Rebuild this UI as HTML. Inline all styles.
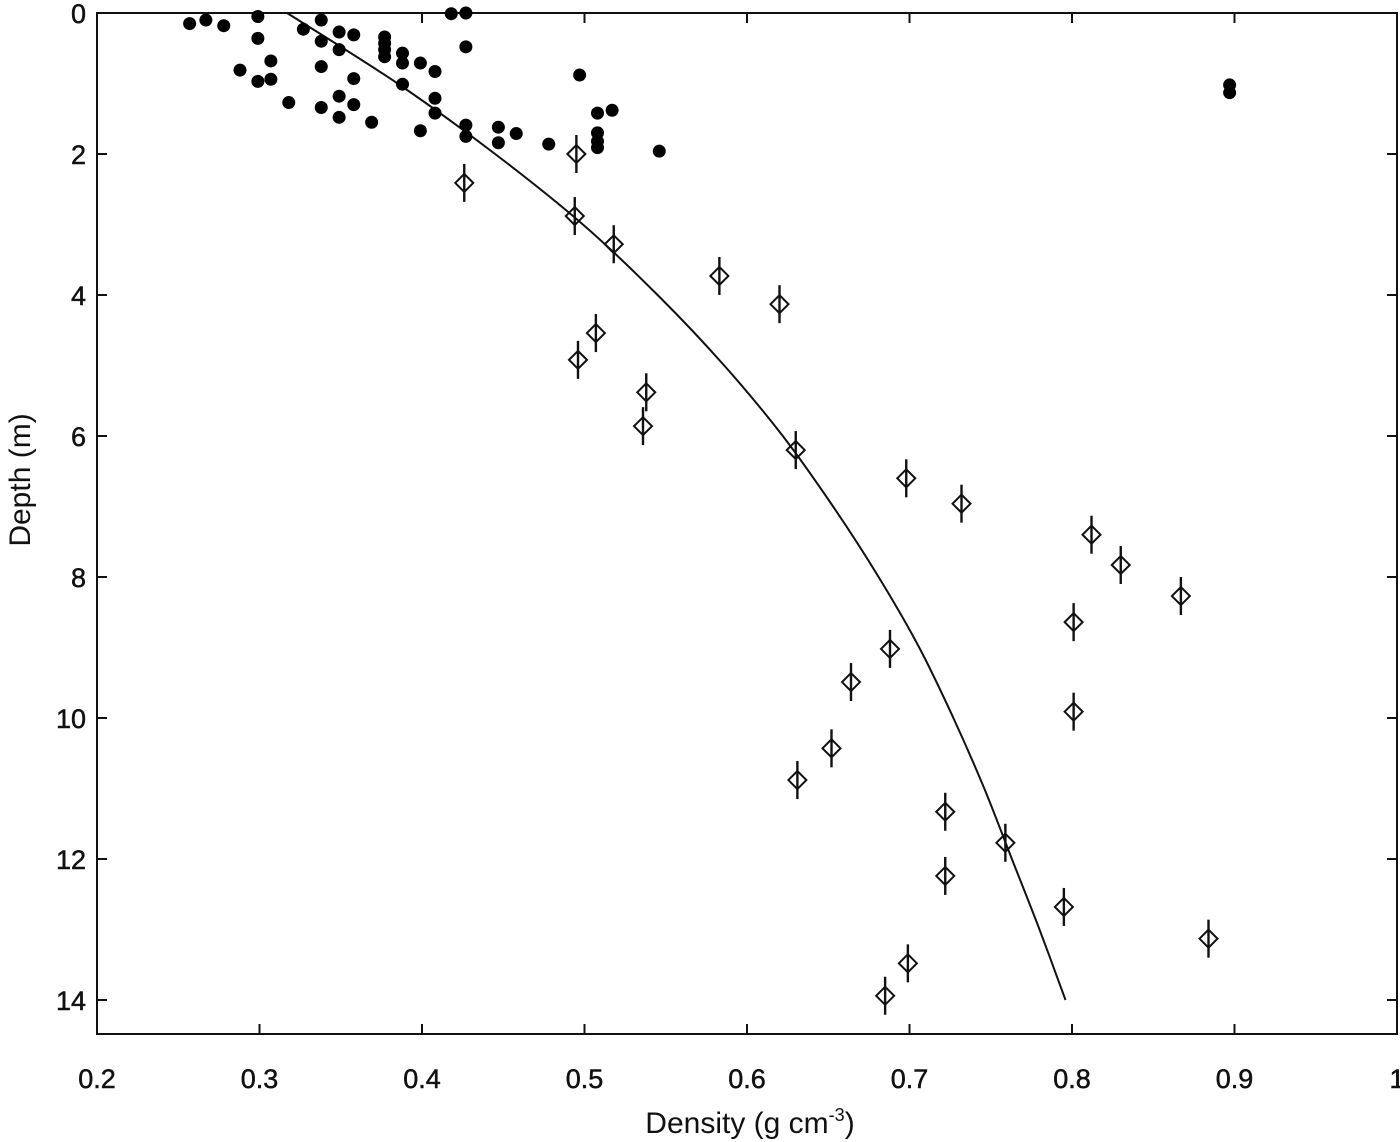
<!DOCTYPE html>
<html><head><meta charset="utf-8"><style>
body{margin:0;background:#fff}
svg{display:block;font-family:"Liberation Sans",sans-serif}
</style></head><body>
<svg id="chart" width="1400" height="1142" viewBox="0 0 1400 1142" xmlns="http://www.w3.org/2000/svg">
<g id="axes"></g>
<g id="marks"></g>
<text x="750" y="1133" font-size="30" text-anchor="middle" fill="#111">Density (g cm<tspan font-size="18" dy="-12">-3</tspan><tspan dy="12">)</tspan></text>
<text transform="translate(30,480) rotate(-90)" font-size="30" text-anchor="middle" fill="#111">Depth (m)</text>
</svg>
<script>
const xTicks=[0.2,0.3,0.4,0.5,0.6,0.7,0.8,0.9,1];
const xTickLabels=["0.2","0.3","0.4","0.5","0.6","0.7","0.8","0.9","1"];
const yTicks=[0,2,4,6,8,10,12,14];
const yTickLabels=["0","2","4","6","8","10","12","14"];
const snowDensity=[0.257,0.267,0.278,0.299,0.299,0.288,0.307,0.299,0.307,0.318,0.327,0.338,0.338,0.338,0.338,0.349,0.349,0.358,0.358,0.349,0.358,0.349,0.369,0.377,0.377,0.377,0.377,0.388,0.388,0.388,0.399,0.399,0.408,0.408,0.408,0.418,0.427,0.427,0.427,0.427,0.447,0.447,0.458,0.478,0.497,0.508,0.508,0.508,0.508,0.517,0.546,0.897,0.897];
const snowDepth=[0.15,0.10,0.18,0.05,0.36,0.81,0.68,0.97,0.94,1.27,0.23,0.10,0.40,0.76,1.34,0.27,0.52,0.31,0.93,1.18,1.30,1.48,1.55,0.34,0.43,0.52,0.62,0.57,0.71,1.01,0.71,1.67,0.83,1.21,1.42,0.01,0.0,0.48,1.59,1.75,1.62,1.84,1.71,1.86,0.88,1.42,1.70,1.82,1.91,1.38,1.96,1.02,1.13];
const coreDensity=[0.495,0.426,0.494,0.518,0.583,0.620,0.507,0.496,0.538,0.536,0.630,0.698,0.732,0.812,0.830,0.867,0.801,0.688,0.664,0.801,0.652,0.631,0.722,0.759,0.722,0.795,0.884,0.699,0.685];
const coreDepth=[2.00,2.41,2.88,3.28,3.73,4.13,4.54,4.92,5.38,5.86,6.20,6.60,6.96,7.40,7.83,8.27,8.64,9.02,9.49,9.91,10.43,10.88,11.33,11.77,12.24,12.68,13.13,13.48,13.94];
const fitDepth=[0,1,2,3,4,5,6,7,8,9,10,11,12,13,14];
const fitDensity=[0.317,0.385,0.445,0.499,0.545,0.586,0.622,0.653,0.681,0.706,0.727,0.746,0.763,0.780,0.796];

const X0=97,X1=1397,Y0=13,Y1=1034;
const xs=d=>X0+(d-0.2)/0.8*(X1-X0);
const ys=z=>Y0+z*70.5;
const NS="http://www.w3.org/2000/svg";
function mk(tag,attrs,parent){const e=document.createElementNS(NS,tag);for(const k in attrs)e.setAttribute(k,attrs[k]);parent.appendChild(e);return e;}
const axes=document.getElementById('axes'),marks=document.getElementById('marks');
const frame=mk('rect',{x:X0,y:Y0,width:X1-X0,height:Y1-Y0,fill:'none',stroke:'#111','stroke-width':2},axes);


xTicks.forEach((t,i)=>{const x=xs(t);
 const a=mk('line',{x1:x,x2:x,y1:Y1,y2:Y1-10,stroke:'#111','stroke-width':2},axes);
 
 
 const b=mk('line',{x1:x,x2:x,y1:Y0,y2:Y0+10,stroke:'#111','stroke-width':2},axes);
 
 
 const l=mk('text',{x:x,y:1088,'font-size':27,'text-anchor':'middle',fill:'#111','stroke':'#111','stroke-width':0.5},axes);l.textContent=xTickLabels[i];
 
 
});
yTicks.forEach((t,i)=>{const y=ys(t);
 const a=mk('line',{x1:X0,x2:X0+10,y1:y,y2:y,stroke:'#111','stroke-width':2},axes);
 
 
 const b=mk('line',{x1:X1,x2:X1-10,y1:y,y2:y,stroke:'#111','stroke-width':2},axes);
 
 
 const l=mk('text',{x:86,y:y+10,'font-size':27,'text-anchor':'end',fill:'#111','stroke':'#111','stroke-width':0.5},axes);l.textContent=yTickLabels[i];
 
 
});
// smooth fit curve (Catmull-Rom)
const P=fitDepth.map((z,i)=>[xs(fitDensity[i]),ys(z)]);
let d='M'+P[0][0].toFixed(1)+','+P[0][1].toFixed(1);
for(let i=0;i<P.length-1;i++){const p0=P[Math.max(0,i-1)],p1=P[i],p2=P[i+1],p3=P[Math.min(P.length-1,i+2)];
 const c1=[p1[0]+(p2[0]-p0[0])/6,p1[1]+(p2[1]-p0[1])/6],c2=[p2[0]-(p3[0]-p1[0])/6,p2[1]-(p3[1]-p1[1])/6];
 d+='C'+c1.map(v=>v.toFixed(1)).join(',')+' '+c2.map(v=>v.toFixed(1)).join(',')+' '+p2.map(v=>v.toFixed(1)).join(',');}
const curve=mk('path',{d:d,fill:'none',stroke:'#111','stroke-width':2},marks);


snowDensity.forEach((v,i)=>{
 const c=mk('circle',{cx:xs(v),cy:ys(snowDepth[i]),r:6.5,fill:'#000'},marks);
 
 
});
coreDensity.forEach((v,i)=>{const x=xs(v),y=ys(coreDepth[i]);
 const g=mk('g',{},marks);
 
 
 mk('line',{x1:x,x2:x,y1:y-19,y2:y+19,stroke:'#111','stroke-width':2.4},g);
 mk('polygon',{points:`${x-9},${y} ${x},${y-9} ${x+9},${y} ${x},${y+9}`,fill:'none',stroke:'#111','stroke-width':2},g);
});
</script>
</body></html>
